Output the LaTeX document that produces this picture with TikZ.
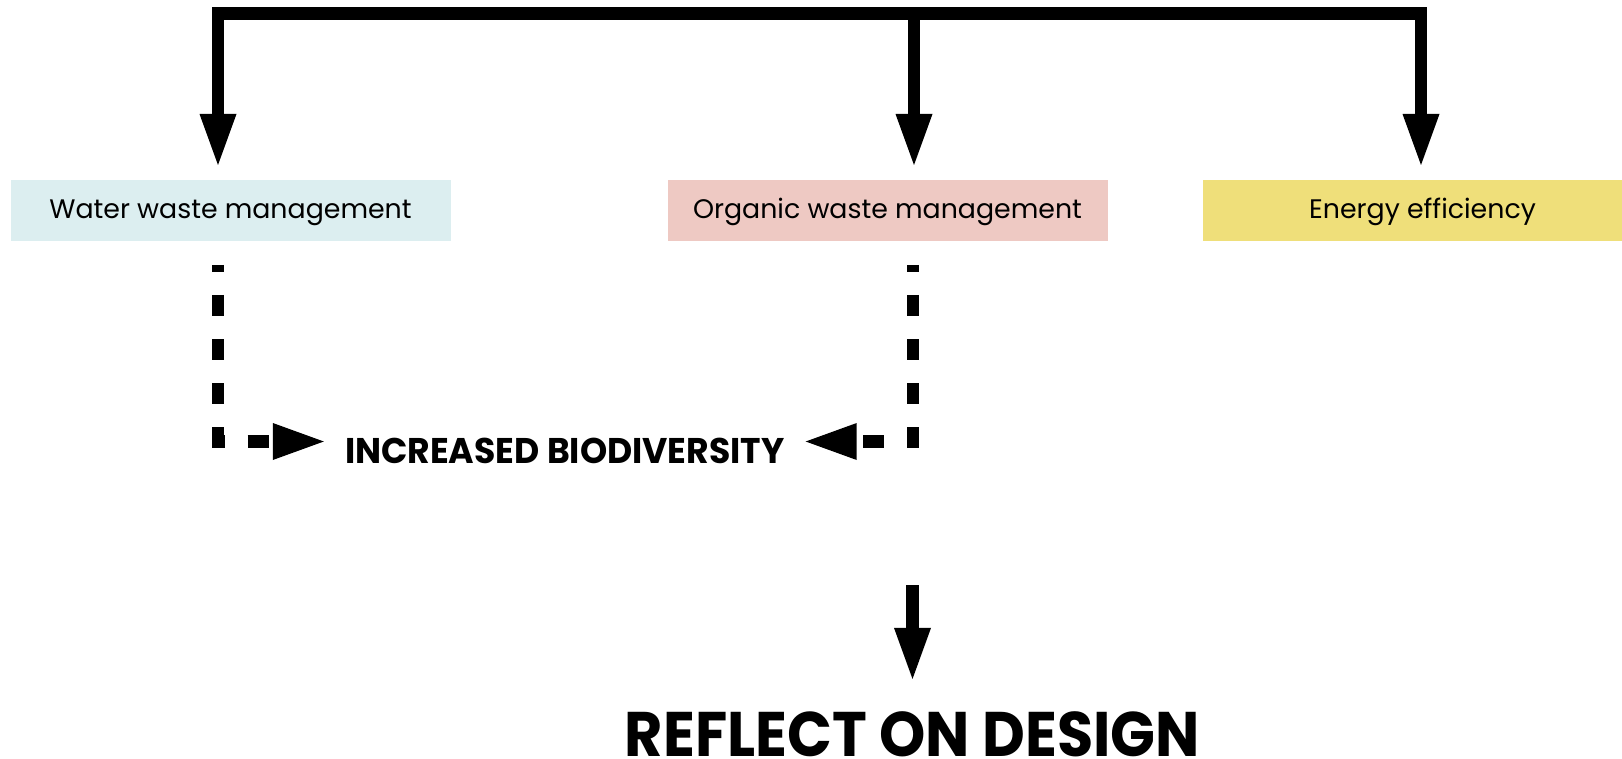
\documentclass[tikz,border=0pt]{standalone}
\usepackage{fontspec}
\usetikzlibrary{arrows.meta}
\newfontfamily\boxfont{Poppins}
\newfontfamily\biofont{Poppins}[FakeStretch=0.97]
\newfontfamily\reflectfont{Poppins}[FakeStretch=0.935]
\definecolor{watercol}{RGB}{220,238,240}
\definecolor{organiccol}{RGB}{238,201,195}
\definecolor{energycol}{RGB}{239,223,122}
\tikzset{
  box/.style={rectangle, inner sep=0pt, minimum width=440pt, minimum height=61pt,
    text height=17pt, text depth=0pt, font=\boxfont\fontsize{26.8}{31}\selectfont},
  bigarrow/.style={line width=12.5pt, line join=miter,
    -{Triangle[length=51pt,width=37pt,line width=0pt]}},
  botharrow/.style={line width=12.5pt, line join=miter,
    {Triangle[length=51pt,width=37pt,line width=0pt]}-{Triangle[length=51pt,width=37pt,line width=0pt]}},
  dasharrow/.style={line width=12.5pt, line join=miter, dash pattern=on 21pt off 23pt, dash phase=14pt,
    -{Triangle[length=51pt,width=37pt,line width=0pt]}}
}
\begin{document}
\begin{tikzpicture}[x=1pt,y=-1pt]
\useasboundingbox (0,0) rectangle (1622,759);
\clip (0,0) rectangle (1622,759);
% boxes
\node[box, fill=watercol] (water) at (230.5,210.5) {Water waste management};
\node[box, fill=organiccol] (organic) at (887.5,210.5) {Organic waste management};
\node[box, fill=energycol] (energy) at (1422.5,210.5) {Energy efficiency};
% labels
\node[anchor=base, inner xsep=21pt, inner ysep=0pt, font=\biofont\bfseries\fontsize{35.7}{40}\selectfont] (bio) at (564.75,463) {INCREASED BIODIVERSITY};
\node[anchor=base, inner sep=0pt, font=\reflectfont\bfseries\fontsize{63}{70}\selectfont] (reflect) at (912.5,756) {REFLECT ON DESIGN};
% coordinates for the top distributor
\coordinate (wtip) at (218,165);
\coordinate (otip) at (914,165);
\coordinate (etip) at (1421,165);
\coordinate (tl) at (218,13.5);
\coordinate (tm) at (914,13.5);
\coordinate (tr) at (1421,13.5);
\draw[botharrow] (wtip) -- (tl) -- (tr) -- (etip);
\draw[bigarrow] (tm) -- (otip);
% dashed connectors
\coordinate (lstart) at (218,265);
\coordinate (lcorner) at (218,441.5);
\coordinate (rstart) at (913,265);
\coordinate (rcorner) at (913,441.5);
\draw[dasharrow] (lstart) -- (lcorner) -- (bio.west |- lcorner);
\draw[dasharrow] (rstart) -- (rcorner) -- (bio.east |- rcorner);
% final arrow
\coordinate (fstart) at (912.5,585);
\draw[bigarrow] (fstart) -- ([yshift=32pt]reflect.north);
\end{tikzpicture}
\end{document}
